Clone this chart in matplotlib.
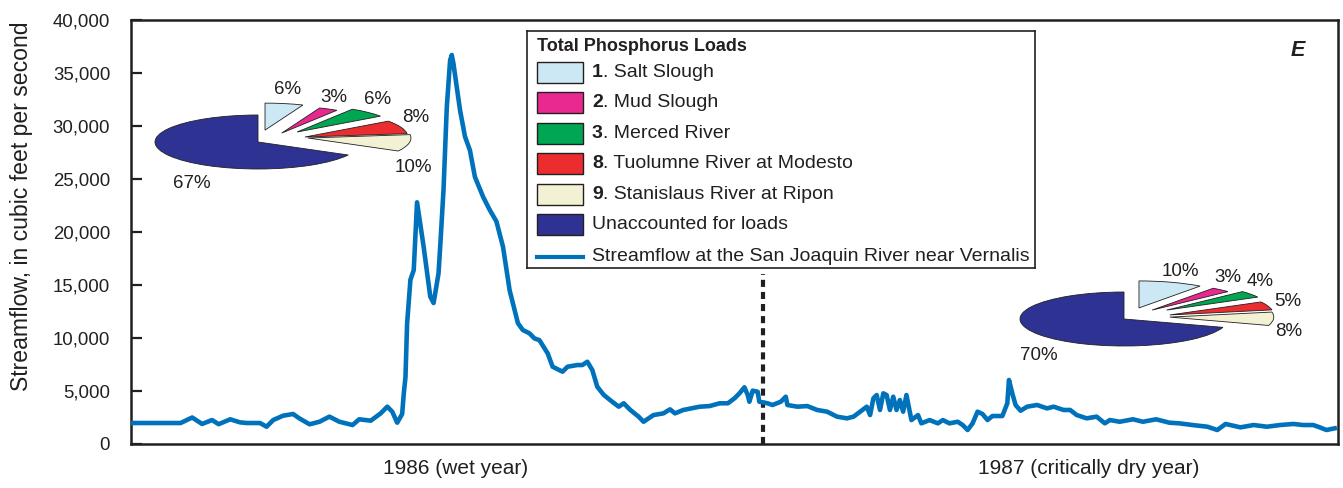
import matplotlib
matplotlib.use("Agg")
import matplotlib.pyplot as plt
from matplotlib.patches import Wedge, Rectangle
from matplotlib.ticker import FuncFormatter
from matplotlib.transforms import Affine2D

plt.rcParams['font.family'] = ['Liberation Sans', 'DejaVu Sans']

# daily streamflow, San Joaquin River near Vernalis (day 0 = start of 1986 water year)
day = [0, 30, 37, 43, 49, 53, 60, 66, 70, 78, 82, 86, 92, 98, 102, 108, 114, 120, 126,
       134, 138, 145, 151, 155, 158, 161, 164, 165, 166, 167, 169, 171, 173, 177, 181,
       183, 186, 187, 189, 191, 193, 194, 195, 199, 202, 205, 208, 213, 217, 221, 225,
       229, 234, 237, 241, 244, 247, 252, 255, 261, 264, 270, 273, 276, 279, 282, 286,
       291, 295, 298, 302, 307, 310, 316, 322, 326, 329, 334, 339, 344, 350, 356, 361,
       365, 368, 371, 373, 374, 376, 379, 380, 385, 388, 393, 396, 397, 403, 409, 415,
       421, 427, 433, 437, 441, 445, 447, 449, 451, 453, 455, 457, 459, 461, 463, 465,
       467, 469, 470, 472, 476, 478, 483, 488, 491, 495, 500, 503, 506, 509, 512, 515,
       518, 521, 527, 530, 531, 533, 535, 538, 542, 548, 554, 558, 564, 568, 572, 578,
       584, 589, 592, 598, 606, 612, 620, 628, 634, 642, 651, 657, 662, 671, 679, 687,
       695, 703, 709, 715, 719, 723, 728]
flow = [1980, 1980, 2500, 1890, 2260, 1870, 2330, 2040, 1980, 1980, 1630, 2260, 2670,
        2830, 2400, 1860, 2100, 2580, 2100, 1790, 2330, 2200, 2890, 3520, 3050, 2010,
        2830, 4800, 6300, 11400, 15500, 16400, 22800, 18600, 13900, 13300, 16100, 18600,
        23950, 31800, 36200, 36700, 35900, 31500, 29000, 27700, 25200, 23300, 22070,
        21000, 18600, 14500, 11400, 10750, 10440, 9960, 9800, 8550, 7290, 6820, 7290,
        7450, 7450, 7760, 6980, 5400, 4620, 3990, 3520, 3840, 3210, 2580, 2100, 2730,
        2890, 3270, 2890, 3210, 3360, 3520, 3580, 3840, 3840, 4310, 4780, 5350, 4620,
        3990, 5030, 4930, 3990, 3840, 3680, 3990, 4460, 3680, 3520, 3580, 3210, 3050,
        2580, 2420, 2580, 3050, 3520, 2730, 4310, 4620, 3210, 4780, 4620, 3210, 4460,
        3210, 4150, 3050, 4620, 3840, 2260, 2730, 1950, 2260, 1950, 2260, 1950, 2100,
        1790, 1320, 1950, 3050, 2830, 2260, 2640, 2640, 3840, 6040, 4780, 3680, 3140,
        3520, 3680, 3360, 3520, 3210, 3210, 2730, 2420, 2580, 1950, 2260, 2100, 2330,
        2100, 2330, 2010, 1950, 1790, 1630, 1320, 1890, 1570, 1790, 1630, 1790, 1890,
        1790, 1790, 1570, 1320, 1480]

year_split = 382
year_labels = ['1986 (wet year)', '1987 (critically dry year)']
year_label_days = [196, 579]

# total phosphorus load shares, percent
site_ids = ['1', '2', '3', '8', '9', '']
sources = ['Salt Slough', 'Mud Slough', 'Merced River', 'Tuolumne River at Modesto',
           'Stanislaus River at Ripon', 'Unaccounted for loads']
loads_1986 = [6, 3, 6, 8, 10, 67]
loads_1987 = [10, 3, 4, 5, 8, 70]

colors = ['#cce8f4', '#e9298f', '#00a651', '#ec2d2f', '#f3f1d4', '#2e3393']
line_color = '#0072bc'
ink = '#231f20'

W, H = 1343, 488
fig = plt.figure(figsize=(W / 100, H / 100), dpi=100)
ax = fig.add_axes([131 / W, 44 / H, 1207 / W, 424 / H])

ax.plot(day, flow, color=line_color, lw=3.3, solid_joinstyle='round', zorder=3)
ax.vlines(year_split, 0, 16000, colors=ink, lw=3, linestyles=(0, (1.7, 1.2)), zorder=2)

ax.set_xlim(0, 730)
ax.set_ylim(0, 40000)
ax.set_yticks(range(0, 40001, 5000))
ax.yaxis.set_major_formatter(FuncFormatter(lambda v, p: f'{int(v):,}'))
ax.tick_params(axis='y', direction='in', length=8, width=1.6, color=ink,
               labelsize=13.4, pad=15, labelcolor=ink)
ax.set_xticks(year_label_days, labels=year_labels)
ax.tick_params(axis='x', length=0, labelsize=15, pad=11, labelcolor=ink)
for s in ax.spines.values():
    s.set_linewidth(1.8)
    s.set_color(ink)

ax.set_ylabel('Streamflow, in cubic feet per second', fontsize=16.6, color=ink)
ax.yaxis.set_label_coords(-0.081, 0.561)
ax.text(0.967, 0.929, 'E', transform=ax.transAxes, fontsize=15.5, fontweight='bold',
        fontstyle='italic', ha='center', va='center', color=ink)


def draw_pie(shares, cx, cy, offsets, label_xy, rx=103, ry=27):
    """Flattened pie: the unaccounted share stays put, the rest is pulled out."""
    tr = Affine2D().scale(rx / W, ry / H).translate(cx / W, (H - cy) / H) + fig.transFigure
    big = shares[-1]
    fig.add_artist(Wedge((0, 0), 1, 90, 90 + 3.6 * big, transform=tr,
                         facecolor=colors[-1], edgecolor=ink, lw=0.6))
    start = 90
    for share, col, off in zip(shares[:-1], colors[:-1], offsets):
        end = start - 3.6 * share
        fig.add_artist(Wedge(off, 1, end, start, transform=tr,
                             facecolor=col, edgecolor=ink, lw=0.6))
        start = end
    for share, (lx, ly) in zip(shares, label_xy):
        fig.text(lx / W, 1 - ly / H, f'{share}%', fontsize=13.5, color=ink,
                 ha='center', va='center')


draw_pie(loads_1986, 258, 142,
         [(0.068, 0.44), (0.23, 0.33), (0.38, 0.37), (0.456, 0.185), (0.485, 0.148)],
         [(288, 90), (334, 97), (378, 100), (416, 118), (413, 167), (192, 183)])
draw_pie(loads_1987, 1124, 319,
         [(0.144, 0.41), (0.27, 0.33), (0.41, 0.33), (0.44, 0.15), (0.44, 0.07)],
         [(1180, 272), (1228, 278), (1260, 282), (1288, 302), (1289, 331), (1039, 355)],
         rx=104)

# legend box, laid out in pixel units
lax = fig.add_axes([527 / W, 1 - 268 / H, 508 / W, 237 / H])
lax.set_xlim(527, 1035)
lax.set_ylim(268, 31)
lax.set_xticks([])
lax.set_yticks([])
for s in lax.spines.values():
    s.set_linewidth(1.2)
    s.set_color(ink)

lax.text(537, 46, 'Total Phosphorus Loads', fontsize=13, fontweight='bold',
         ha='left', va='center', color=ink)
for i, (sid, name, col) in enumerate(zip(site_ids, sources, colors)):
    y = 72.5 + i * 30.4
    lax.add_patch(Rectangle((537, y - 10.5), 46, 21, facecolor=col, edgecolor=ink, lw=1))
    if sid:
        t = lax.text(592, y, sid, fontsize=14, fontweight='bold', ha='left', va='center',
                     color=ink)
        lax.annotate(f'. {name}', xy=(1, 0.5), xycoords=t, fontsize=14, ha='left',
                     va='center', color=ink)
    else:
        lax.text(592, y, name, fontsize=14, ha='left', va='center', color=ink)
lax.plot([537, 583], [256.5, 256.5], color=line_color, lw=3)
lax.text(592, 256.5, 'Streamflow at the San Joaquin River near Vernalis', fontsize=14,
         ha='left', va='center', color=ink)

fig.savefig('out.png', dpi=100)
